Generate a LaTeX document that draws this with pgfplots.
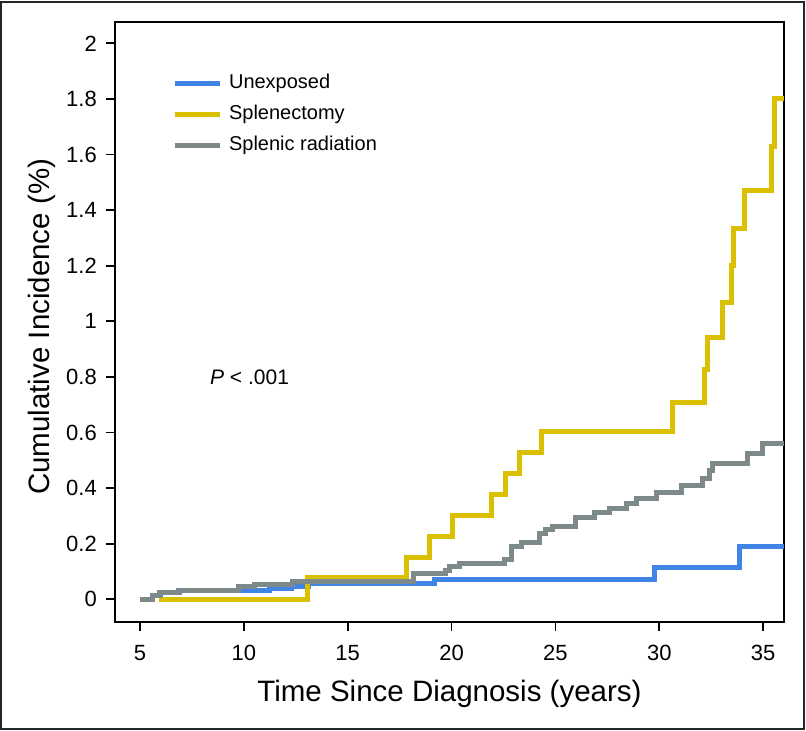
\documentclass[border=0pt]{standalone}
\usepackage{fontspec}
\setmainfont{Liberation Sans}
\usepackage{pgfplots}
\usepackage{pgfplotstable}
\pgfplotsset{compat=1.18}
\definecolor{cblue}{RGB}{64,133,230}
\definecolor{cyellow}{RGB}{218,192,0}
\definecolor{cgray}{RGB}{125,138,137}

\pgfplotstableread{
t v
5.0 0
5.6 0.013
6.0 0.024
6.85 0.032
11.25 0.038
12.3 0.047
13.1 0.057
19.2 0.072
29.76 0.113
33.88 0.188
36 0.188
}\unexposed

\pgfplotstableread{
t v
5.9 0
13.08 0.077
17.84 0.150
18.94 0.224
20.05 0.300
21.9 0.375
22.6 0.453
23.27 0.527
24.33 0.605
30.63 0.708
32.16 0.825
32.31 0.943
33.03 1.066
33.46 1.200
33.55 1.333
34.09 1.470
35.38 1.630
35.53 1.800
36 1.800
}\splenectomy

\pgfplotstableread{
t v
5.0 0
5.6 0.013
5.95 0.024
6.9 0.033
9.76 0.044
10.5 0.052
12.36 0.065
18.15 0.091
19.7 0.105
19.9 0.118
20.4 0.130
22.55 0.144
22.87 0.189
23.35 0.204
24.25 0.236
24.5 0.250
24.86 0.263
25.95 0.294
26.9 0.311
27.6 0.328
28.42 0.346
28.88 0.364
29.84 0.385
31.06 0.408
32.1 0.433
32.4 0.463
32.55 0.489
34.23 0.524
34.98 0.562
36 0.562
}\radiation

\begin{document}
\begin{tikzpicture}
\path[use as bounding box] (-115pt,-109pt) rectangle (691pt,622pt);
\begin{axis}[
  scale only axis,
  width=669pt, height=600pt,
  xmin=3.8, xmax=36, ymin=-0.082, ymax=2.077,
  xtick={5,10,15,20,25,30,35},
  ytick={0,0.2,0.4,0.6,0.8,1,1.2,1.4,1.6,1.8,2},
  yticklabels={0,0.2,0.4,0.6,0.8,1,1.2,1.4,1.6,1.8,2},
  xticklabels={5,10,15,20,25,30,35},
  tick align=outside,
  xtick pos=bottom, ytick pos=left,
  major tick length=9pt,
  tick style={line width=1.8pt, black},
  axis line style={line width=2.6pt, black},
  /pgf/number format/assume math mode=true,
  tick label style={font=\fontsize{22}{26}\selectfont, inner sep=0pt},
  xticklabel style={yshift=-14pt},
  yticklabel style={xshift=-9pt},
  xlabel={Time Since Diagnosis (years)},
  ylabel={Cumulative Incidence (\%)},
  label style={font=\fontsize{29.5}{34}\selectfont},
  xlabel style={at={(axis description cs:0.5,-0.1333)}, anchor=base},
  ylabel style={at={(axis description cs:-0.0972,0.492)}, anchor=base},
  legend style={at={(axis description cs:0.085,0.913)}, anchor=north west,
    draw=none, fill=none, inner sep=0pt, row sep=13pt,
    font=\fontsize{20}{24}\selectfont,
    nodes={inner sep=0pt, text height=14pt, text depth=4pt},
    /tikz/every odd column/.append style={column sep=7pt}},
  legend cell align=left,
  legend image code/.code={\draw[line width=5pt] (0pt,0pt) -- (45pt,0pt);},
  every axis plot/.append style={line width=5pt, line join=miter, line cap=butt},
]
\addplot[cblue, const plot] table[x=t, y=v] {\unexposed};
\addlegendentry{Unexposed}
\addplot[cyellow, const plot] table[x=t, y=v] {\splenectomy};
\addlegendentry{Splenectomy}
\addplot[cgray, const plot] table[x=t, y=v] {\radiation};
\addlegendentry{Splenic radiation}
\node[anchor=west, font=\fontsize{21}{25}\selectfont, inner sep=0pt] at (axis cs:8.37,0.80) {\textit{P} {<} .001};
\end{axis}
\draw[line width=1.5pt, black!85] (-114pt,-107pt) rectangle (689pt,620pt);
\end{tikzpicture}
\end{document}
